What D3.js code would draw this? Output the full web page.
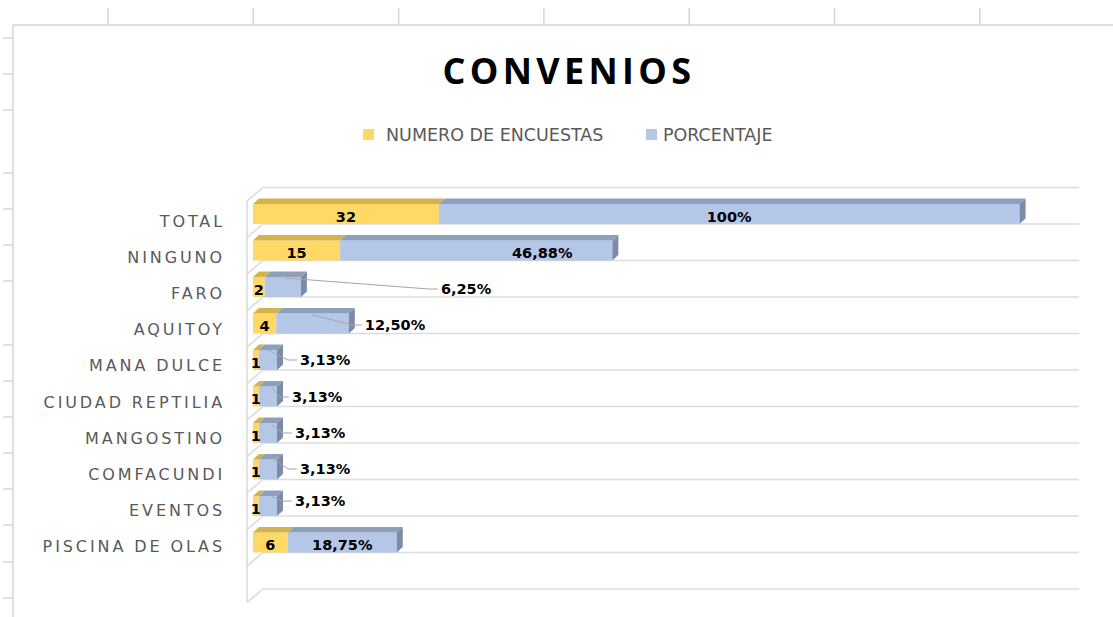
<!DOCTYPE html>
<html>
<head>
<meta charset="utf-8">
<title>Convenios</title>
<style>
  body { margin: 0; background: #fff; }
  svg { display: block; font-family: "DejaVu Sans", sans-serif; }
  .sheet { stroke: #d6d6d6; stroke-width: 1.5; }
  .grid { stroke: #dcdcdc; stroke-width: 1.6; fill: none; }
  .cat { fill: #595959; font-size: 16px; letter-spacing: 2.9px; }
  .val { fill: #000; font-size: 14.5px; font-weight: bold; }
  .leader { stroke: #a6a6a6; stroke-width: 1; fill: none; }
  .legend text { fill: #595959; font-size: 17.5px; }
</style>
</head>
<body>
<div id="chart"></div>
<script src="https://cdn.jsdelivr.net/npm/d3@7/dist/d3.min.js"></script>
<script>
// chart data
var categories = ["TOTAL", "NINGUNO", "FARO", "AQUITOY", "MANA DULCE",
                  "CIUDAD REPTILIA", "MANGOSTINO", "COMFACUNDI", "EVENTOS", "PISCINA DE OLAS"];
var encuestas  = [32, 15, 2, 4, 1, 1, 1, 1, 1, 6];
var porcentaje = [100, 46.88, 6.25, 12.5, 3.13, 3.13, 3.13, 3.13, 3.13, 18.75];
var seriesNames = ["NUMERO DE ENCUESTAS", "PORCENTAJE"];
var title = "CONVENIOS";

// layout only: where excel put the moved percentage labels (relative to bar end)
var calloutLayout = {
  "FARO":            { dx: 140, dy: -8,   ax: -16, ay: -19 },
  "AQUITOY":         { dx: 16,  dy: -8.5, ax: -36, ay: -18.5 },
  "MANA DULCE":      { dx: 23,  dy: -10,  ax: -9,  ay: -20 },
  "CIUDAD REPTILIA": { dx: 15,  dy: -9.5, ax: -5,  ay: -18.5 },
  "MANGOSTINO":      { dx: 18,  dy: -10,  ax: -5,  ay: -18 },
  "COMFACUNDI":      { dx: 23,  dy: -10.5,ax: -5,  ay: -21.5 },
  "EVENTOS":         { dx: 18,  dy: -15,  ax: -5,  ay: -19 }
};
var insideShift = { "NINGUNO": 66 };

var W = 1113, H = 617;
var colors = {
  yellow: "#ffd966", yellowTop: "#d4b34f",
  blue: "#b4c7e7", blueTop: "#8d9fba", blueSide: "#7c8ca6"
};

var svg = d3.select("#chart").append("svg")
  .attr("width", W).attr("height", H);

// spreadsheet behind the chart
var colLines = d3.range(7).map(function (i) { return 108 + i * 145.3; });
var rowTicks = [38, 74, 110, 173, 209, 245, 281, 345, 381, 417, 453, 489, 525, 562, 598];
svg.selectAll(".col").data(colLines).enter().append("line")
  .attr("class", "sheet").attr("x1", function (d) { return d; }).attr("x2", function (d) { return d; })
  .attr("y1", 8).attr("y2", 25);
svg.selectAll(".row").data(rowTicks).enter().append("line")
  .attr("class", "sheet").attr("x1", 3).attr("x2", 13)
  .attr("y1", function (d) { return d; }).attr("y2", function (d) { return d; });
svg.append("line").attr("class", "sheet").attr("x1", 13).attr("x2", W).attr("y1", 25).attr("y2", 25);
svg.append("line").attr("class", "sheet").attr("x1", 13).attr("x2", 13).attr("y1", 25).attr("y2", H);

// title + legend
svg.append("text").attr("x", 569).attr("y", 84).attr("text-anchor", "middle")
  .style("font-family", "'Open Sans', sans-serif")
  .style("font-size", "36px").style("font-weight", "bold").style("letter-spacing", "4.3px")
  .attr("fill", "#000").text(title);

var legend = svg.append("g").attr("class", "legend");
var legendPos = [{ sx: 363, tx: 386, c: colors.yellow }, { sx: 646, tx: 663, c: colors.blue }];
seriesNames.forEach(function (name, i) {
  legend.append("rect").attr("x", legendPos[i].sx).attr("y", 129)
    .attr("width", 11).attr("height", 11).attr("fill", legendPos[i].c);
  legend.append("text").attr("x", legendPos[i].tx).attr("y", 140.5).text(name);
});

// scales
var x = d3.scaleLinear().domain([0, 140]).range([253, 1066]);
var y = d3.scaleBand().domain(categories).range([187.5, 552.5]);
var labelY = d3.scalePoint().domain(categories).range([227.3, 551.7]);

var wall = { dx: 16, dy: -13.5 };
var depth = { dx: 6, dy: -5.5 };
var barH = 20;

// back wall gridlines + left wall
var plot = svg.append("g");
var step = y.step();
var gridYs = d3.range(categories.length + 2).map(function (i) { return y.range()[0] + i * step; });
var wallX = x(0) - 6;
plot.selectAll(".gl").data(gridYs).enter().append("line")
  .attr("class", "grid")
  .attr("x1", wallX + wall.dx).attr("x2", x(140) + 13)
  .attr("y1", function (d) { return d; }).attr("y2", function (d) { return d; });
plot.selectAll(".gd").data(gridYs).enter().append("line")
  .attr("class", "grid")
  .attr("x1", wallX).attr("y1", function (d) { return d - wall.dy; })
  .attr("x2", wallX + wall.dx).attr("y2", function (d) { return d; });
plot.append("line").attr("class", "grid")
  .attr("x1", wallX).attr("x2", wallX)
  .attr("y1", gridYs[0] - wall.dy).attr("y2", gridYs[gridYs.length - 1] - wall.dy);

// 3d-ish bar pieces
function drawBox(g, x0, x1, yb, front, top, side) {
  var yt = yb - barH;
  g.append("rect").attr("x", x0).attr("y", yt).attr("width", x1 - x0).attr("height", barH).attr("fill", front);
  g.append("path").attr("fill", top)
    .attr("d", "M" + x0 + "," + yt + "L" + (x0 + depth.dx) + "," + (yt + depth.dy) +
      "L" + (x1 + depth.dx) + "," + (yt + depth.dy) + "L" + x1 + "," + yt + "Z");
  if (side) {
    g.append("path").attr("fill", side)
      .attr("d", "M" + x1 + "," + yt + "L" + (x1 + depth.dx) + "," + (yt + depth.dy) +
        "L" + (x1 + depth.dx) + "," + (yb + depth.dy) + "L" + x1 + "," + yb + "Z");
  }
}

var locale = d3.formatLocale({ decimal: ",", thousands: ".", grouping: [3], currency: ["", ""] });
var fmt = locale.format(".2f");
function pctText(v) { return (Number.isInteger(v) ? v : fmt(v)) + "%"; }

var bars = svg.append("g");
var labels = svg.append("g");
categories.forEach(function (c, i) {
  var yb = y(c) + step;
  var a = encuestas[i], p = porcentaje[i];
  var g = bars.append("g");
  drawBox(g, x(0), x(a), yb, colors.yellow, colors.yellowTop, null);
  drawBox(g, x(a), x(a + p), yb, colors.blue, colors.blueTop, colors.blueSide);

  labels.append("text").attr("class", "val").attr("text-anchor", "middle")
    .attr("x", (x(0) + x(a)) / 2).attr("y", yb - 2.5).text(a);

  var co = calloutLayout[c];
  if (co) {
    var xe = x(a + p);
    var lx = xe + co.dx, ly = yb + co.dy;
    labels.append("polyline").attr("class", "leader")
      .attr("points", [[xe + co.ax, yb + co.ay], [lx - 12, ly], [lx - 3, ly]].join(" "));
    labels.append("text").attr("class", "val").attr("x", lx).attr("y", ly + 5).text(pctText(p));
  } else {
    labels.append("text").attr("class", "val").attr("text-anchor", "middle")
      .attr("x", (x(a) + x(a + p)) / 2 + (insideShift[c] || 0)).attr("y", yb - 2.5).text(pctText(p));
  }
});

// category labels
svg.append("g").selectAll("text").data(categories).enter().append("text")
  .attr("class", "cat").attr("text-anchor", "end")
  .attr("x", 225).attr("y", function (d) { return labelY(d); })
  .text(function (d) { return d; });
</script>
</body>
</html>
